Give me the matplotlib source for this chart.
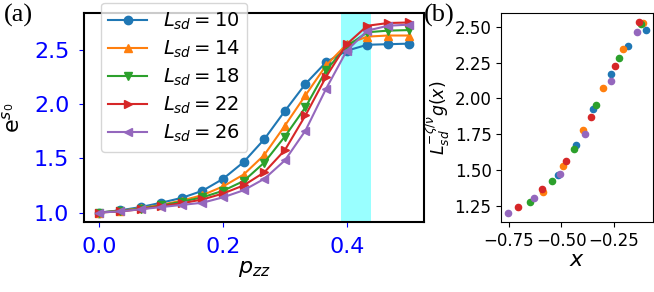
import numpy as np
import matplotlib.pyplot as plt

# panel (a): e^{s0} vs p_zz for several system sizes
p_zz = np.arange(16) / 30
sizes = [10, 14, 18, 22, 26]
es0_10 = [1.0, 1.02, 1.05, 1.09, 1.135, 1.2, 1.31, 1.465, 1.675, 1.935, 2.185, 2.385, 2.49, 2.545, 2.55, 2.555]
es0_14 = [1.0, 1.015, 1.04, 1.07, 1.11, 1.16, 1.24, 1.35, 1.53, 1.80, 2.08, 2.355, 2.55, 2.62, 2.63, 2.63]
es0_18 = [1.0, 1.015, 1.035, 1.065, 1.10, 1.14, 1.20, 1.29, 1.46, 1.70, 1.97, 2.31, 2.53, 2.66, 2.675, 2.68]
es0_22 = [1.0, 1.01, 1.03, 1.06, 1.085, 1.12, 1.175, 1.25, 1.37, 1.575, 1.895, 2.25, 2.55, 2.72, 2.745, 2.75]
es0_26 = [1.0, 1.01, 1.03, 1.05, 1.07, 1.09, 1.14, 1.205, 1.31, 1.48, 1.755, 2.14, 2.49, 2.675, 2.72, 2.73]
es0_all = [es0_10, es0_14, es0_18, es0_22, es0_26]
markers = ['o', '^', 'v', '>', '<']
shade = (0.39, 0.44)

# panel (b): scaling collapse
x_10 = [-0.514, -0.432, -0.348, -0.265, -0.182, -0.099]
g_10 = [1.46, 1.671, 1.923, 2.172, 2.367, 2.481]
x_14 = [-0.587, -0.492, -0.397, -0.304, -0.209, -0.113]
g_14 = [1.343, 1.527, 1.778, 2.074, 2.346, 2.523]
x_18 = [-0.65, -0.544, -0.44, -0.334, -0.228, -0.122]
g_18 = [1.273, 1.422, 1.646, 1.955, 2.279, 2.519]
x_22 = [-0.704, -0.59, -0.476, -0.361, -0.247, -0.133]
g_22 = [1.238, 1.366, 1.564, 1.867, 2.228, 2.53]
x_26 = [-0.753, -0.63, -0.508, -0.386, -0.265, -0.141]
g_26 = [1.201, 1.30, 1.471, 1.748, 2.123, 2.465]
xs_all = [x_10, x_14, x_18, x_22, x_26]
gs_all = [g_10, g_14, g_18, g_22, g_26]

fig = plt.figure(figsize=(6.54, 2.92), dpi=100)
ax1 = fig.add_axes([0.1284, 0.2397, 0.5199, 0.7158])
ax2 = fig.add_axes([0.7665, 0.2397, 0.2315, 0.7158])

ax1.axvspan(shade[0], shade[1], color='cyan', alpha=0.4, lw=0)
for L, ys, m in zip(sizes, es0_all, markers):
    ax1.plot(p_zz, ys, marker=m, label=r'$L_{sd}=%d$' % L)
ax1.set_xlabel(r'$p_{zz}$', fontsize=16, labelpad=2)
ax1.set_ylabel(r'e$^{s_0}$', fontsize=16, labelpad=8)
ax1.tick_params(labelsize=16, colors='blue', pad=7)
for s in ax1.spines.values():
    s.set_linewidth(1.5)
ax1.legend(fontsize=14, loc='upper left', bbox_to_anchor=(0.049, 1.05),
           borderaxespad=0, labelspacing=0.35)

for xs, gs in zip(xs_all, gs_all):
    ax2.scatter(xs, gs, s=20)
ax2.set_xlabel(r'$x$', fontsize=16, labelpad=0)
ax2.set_ylabel(r'$L_{sd}^{-\zeta/\nu}g(x)$', fontsize=12.5, labelpad=2)
ax2.tick_params(labelsize=12)

fig.text(0.006, 0.985, '(a)', fontsize=19, family='Liberation Serif', va='top')
fig.text(0.648, 0.985, '(b)', fontsize=19, family='Liberation Serif', va='top')

fig.savefig('out.png', dpi=100)
